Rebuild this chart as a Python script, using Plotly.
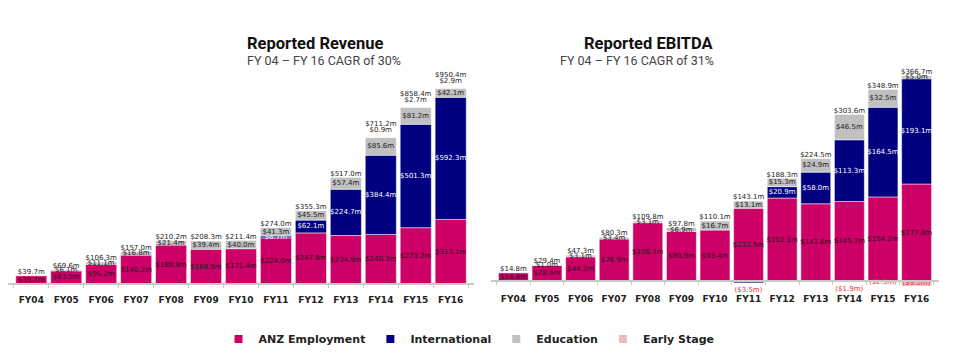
import plotly.graph_objects as go

years = ["FY04", "FY05", "FY06", "FY07", "FY08", "FY09", "FY10", "FY11", "FY12", "FY13", "FY14", "FY15", "FY16"]

# Reported Revenue ($m)
rev_anz = [39.7, 63.5, 95.2, 140.2, 188.8, 168.9, 171.4, 224.0, 247.8, 234.9, 240.3, 273.2, 313.1]
rev_intl = [0, 0, 0, 0, 0, 0, 0, 8.7, 62.1, 224.7, 384.4, 501.3, 592.3]
rev_edu = [0, 6.1, 11.1, 16.8, 21.4, 39.4, 40.0, 41.3, 45.5, 57.4, 85.6, 81.2, 42.1]
rev_early = [0, 0, 0, 0, 0, 0, 0, 0, 0, 0, 0.9, 2.7, 2.9]
rev_total = [39.7, 69.6, 106.3, 157.0, 210.2, 208.3, 211.4, 274.0, 355.3, 517.0, 711.2, 858.4, 950.4]

# Reported EBITDA ($m)
eb_anz = [14.8, 28.4, 44.2, 76.9, 106.7, 90.9, 93.4, 133.5, 152.1, 141.6, 145.7, 154.2, 177.8]
eb_intl = [0, 0, 0, 0, 0, 0, 0, -3.5, 20.9, 58.0, 113.3, 164.5, 193.1]
eb_edu = [0, 1.0, 3.1, 3.4, 3.1, 6.9, 16.7, 13.1, 15.3, 24.9, 46.5, 32.5, 5.0]
eb_early = [0, 0, 0, 0, 0, 0, 0, 0, 0, 0, -1.9, -2.3, -9.2]
eb_total = [14.8, 29.4, 47.3, 80.3, 109.8, 97.8, 110.1, 143.1, 188.3, 224.5, 303.6, 348.9, 366.7]

series_names = ["ANZ Employment", "International", "Education", "Early Stage"]
colors = ["#CC0066", "#000080", "#C0C0C0", "#EDB9BE"]
inside_colors = ["#1a1a1a", "#FFFFFF", "#1a1a1a", "#1a1a1a"]
NEG_RED = "#FF2A2A"
LABEL_FONT = "DejaVu Sans"


def fmt(v):
    if v == 0:
        return ""
    if v < 0:
        return f"(${-v:.1f}m)"
    return f"${v:.1f}m"


fig = go.Figure()


def add_chart(series, totals, xa, ya):
    for i, vals in enumerate(series):
        ys = [v if v != 0 else None for v in vals]
        texts = [fmt(v) for v in vals]
        tpos = []
        for v in vals:
            if v < 0:
                tpos.append("outside" if v > -2.0 or i == 1 else "inside")
            elif i == 3:
                tpos.append("outside")
            else:
                tpos.append("inside")
        tcolors = [NEG_RED if v < 0 else inside_colors[i] for v in vals]
        fig.add_trace(go.Bar(
            x=years, y=ys, name=series_names[i], xaxis=xa, yaxis=ya,
            marker=dict(color=colors[i], line=dict(width=0.5, color="#FFFFFF")),
            text=texts, textposition=tpos, textangle=0,
            insidetextanchor="middle",
            insidetextfont=dict(family=LABEL_FONT, size=7, color=tcolors),
            outsidetextfont=dict(family=LABEL_FONT, size=7, color=tcolors),
            cliponaxis=False, showlegend=False,
            hoverinfo="skip",
        ))
    early = series[3]
    pos_top = [sum(s[k] for s in series if s[k] > 0) for k in range(len(years))]
    # raise the total label by one line where a positive early-stage label sits above the bar
    tot_text = [f"${t:.1f}m" + ("<br>\u00a0" if early[k] > 0 else "") for k, t in enumerate(totals)]
    fig.add_trace(go.Scatter(
        x=years, y=pos_top, mode="text", text=tot_text,
        textposition="top center", textfont=dict(family=LABEL_FONT, size=7, color="#1a1a1a"),
        xaxis=xa, yaxis=ya, showlegend=False, cliponaxis=False, hoverinfo="skip",
    ))


add_chart([rev_anz, rev_intl, rev_edu, rev_early], rev_total, "x", "y")
add_chart([eb_anz, eb_intl, eb_edu, eb_early], eb_total, "x2", "y2")

# legend entries (small square swatches)
for name, col in zip(series_names, colors):
    fig.add_trace(go.Scatter(
        x=[None], y=[None], mode="markers", name=name,
        marker=dict(symbol="square", size=8, color=col),
        xaxis="x", yaxis="y", showlegend=True, hoverinfo="skip",
    ))

# page has an 8px body margin: size figure to fit the window and offset positions
OFF = 8
W = 973 - 2 * OFF
H = 364 - 2 * OFF


def px(x):
    return (x - OFF) / W


def py(y):
    return (H - (y - OFF)) / H


ydom = [py(295), py(70)]
axis_common = dict(type="category", showgrid=False, showline=True, linecolor="#C8C8C8",
                   linewidth=1.5, ticks="outside", tickson="boundaries", ticklen=3,
                   tickcolor="#C8C8C8", tickangle=0,
                   tickfont=dict(family=LABEL_FONT, size=9, color="#222222", weight="bold"),
                   anchor="free", fixedrange=True, automargin=False)

fig.update_layout(
    width=W, height=H,
    margin=dict(l=0, r=0, t=0, b=0, autoexpand=False),
    paper_bgcolor="white", plot_bgcolor="white",
    barmode="relative", bargap=0.11,
    uniformtext=dict(minsize=7, mode="show"),
    xaxis=dict(domain=[px(8), px(474)], position=py(284), ticklabelstandoff=7, **axis_common),
    xaxis2=dict(domain=[px(491), px(939)], position=py(281), ticklabelstandoff=9, **axis_common),
    yaxis=dict(domain=ydom, range=[-53.3, 1037.6], visible=False, anchor="x"),
    yaxis2=dict(domain=ydom, range=[-25.7, 386.9], visible=False, anchor="x2"),
    legend=dict(orientation="h", x=px(469), xanchor="center", y=py(339), yanchor="middle",
                font=dict(family=LABEL_FONT, size=11, color="#222222", weight="bold"),
                itemwidth=30, traceorder="normal", bgcolor="rgba(0,0,0,0)"),
    font=dict(family=LABEL_FONT),
)

TITLE_FONT = "Roboto, Liberation Sans, sans-serif"
titles = [
    (245, "Reported Revenue", "FY 04 – FY 16 CAGR of 30%"),
    (716, "Reported EBITDA", "FY 04 – FY 16 CAGR of 31%"),
]
for xc, t, s in titles:
    fig.add_annotation(x=px(xc), y=py(44), xref="paper", yref="paper", text=f"<b>{t}</b>",
                       showarrow=False, yanchor="middle",
                       font=dict(family=TITLE_FONT, size=16.5, color="#111111"))
    fig.add_annotation(x=px(xc), y=py(61), xref="paper", yref="paper", text=s,
                       showarrow=False, yanchor="middle",
                       font=dict(family=TITLE_FONT, size=12.5, color="#444444"))

fig.write_html("out.html")
